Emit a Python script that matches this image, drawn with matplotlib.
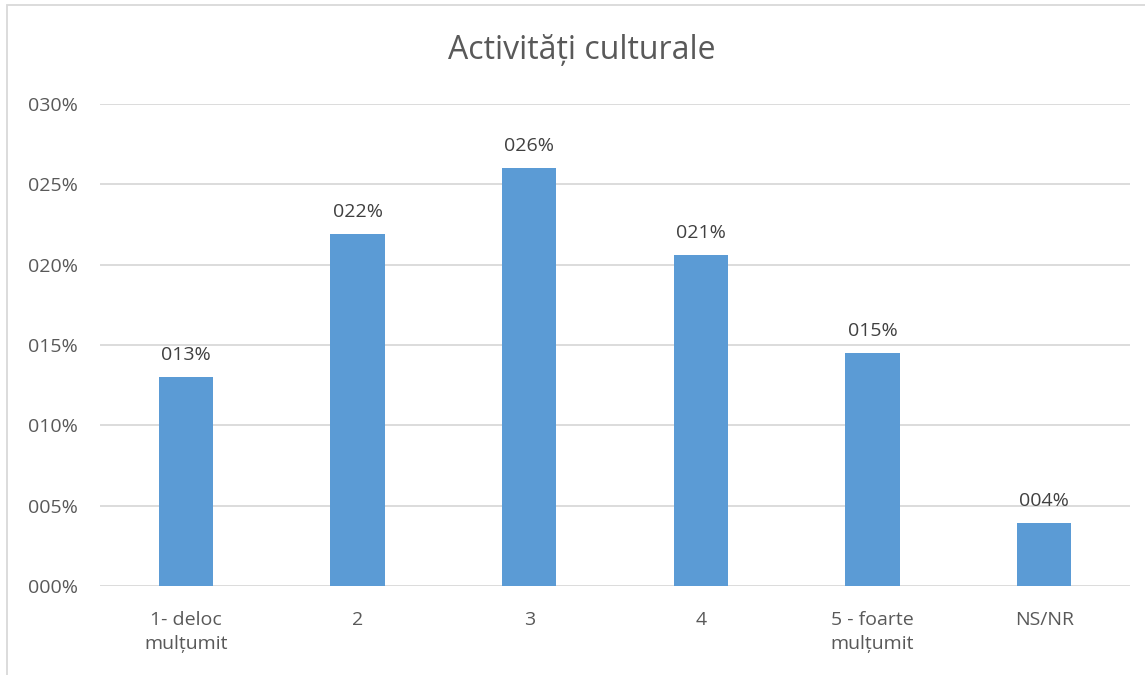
import matplotlib
matplotlib.use("Agg")
import matplotlib.pyplot as plt
from matplotlib.patches import Rectangle

categories = ["1- deloc\nmulțumit", "2", "3", "4", "5 - foarte\nmulțumit", "NS/NR"]
values = [13.0, 21.9, 26.0, 20.6, 14.5, 3.9]
yticks = [0, 5, 10, 15, 20, 25, 30]
ytick_labels = ["000%", "005%", "010%", "015%", "020%", "025%", "030%"]
title = "Activități culturale"

plt.rcParams['font.family'] = ['Open Sans', 'DejaVu Sans']
txt = '#595959'

fig = plt.figure(figsize=(11.45, 6.75), dpi=100)
W, H = 1145, 675
fig.patches.append(Rectangle((7 / W, -0.1), 1.2, (H - 5) / H + 0.1, transform=fig.transFigure,
                             fill=False, edgecolor='#d9d9d9', linewidth=1.3))
ax = fig.add_axes([100 / W, (H - 586) / H, (1130 - 100) / W, (586 - 104) / H])
x = list(range(len(categories)))
ax.bar(x, values, width=0.315, color='#5b9bd5', zorder=3)
for xi, v in zip(x, values):
    ax.text(xi, v + 0.8, f"{int(v + 0.5):03d}%", ha='center', va='bottom', fontsize=14, color='#404040')
ax.set_xlim(-0.5, len(categories) - 0.5)
ax.set_ylim(0, 30)
ax.set_yticks(yticks)
ax.set_yticklabels(ytick_labels, fontsize=14, color=txt)
ax.set_xticks(x)
ax.set_xticklabels(categories, fontsize=14, color=txt, linespacing=1.4)
ax.tick_params(length=0)
ax.tick_params(axis='x', pad=18)
ax.tick_params(axis='y', pad=16)
ax.grid(axis='y', color='#d9d9d9', linewidth=1.3, zorder=0)
for s in ax.spines.values():
    s.set_visible(False)
fig.text(582 / W, (H - 50) / H, title, ha='center', va='center', fontsize=23, color=txt)
fig.savefig("out.png", dpi=100)
